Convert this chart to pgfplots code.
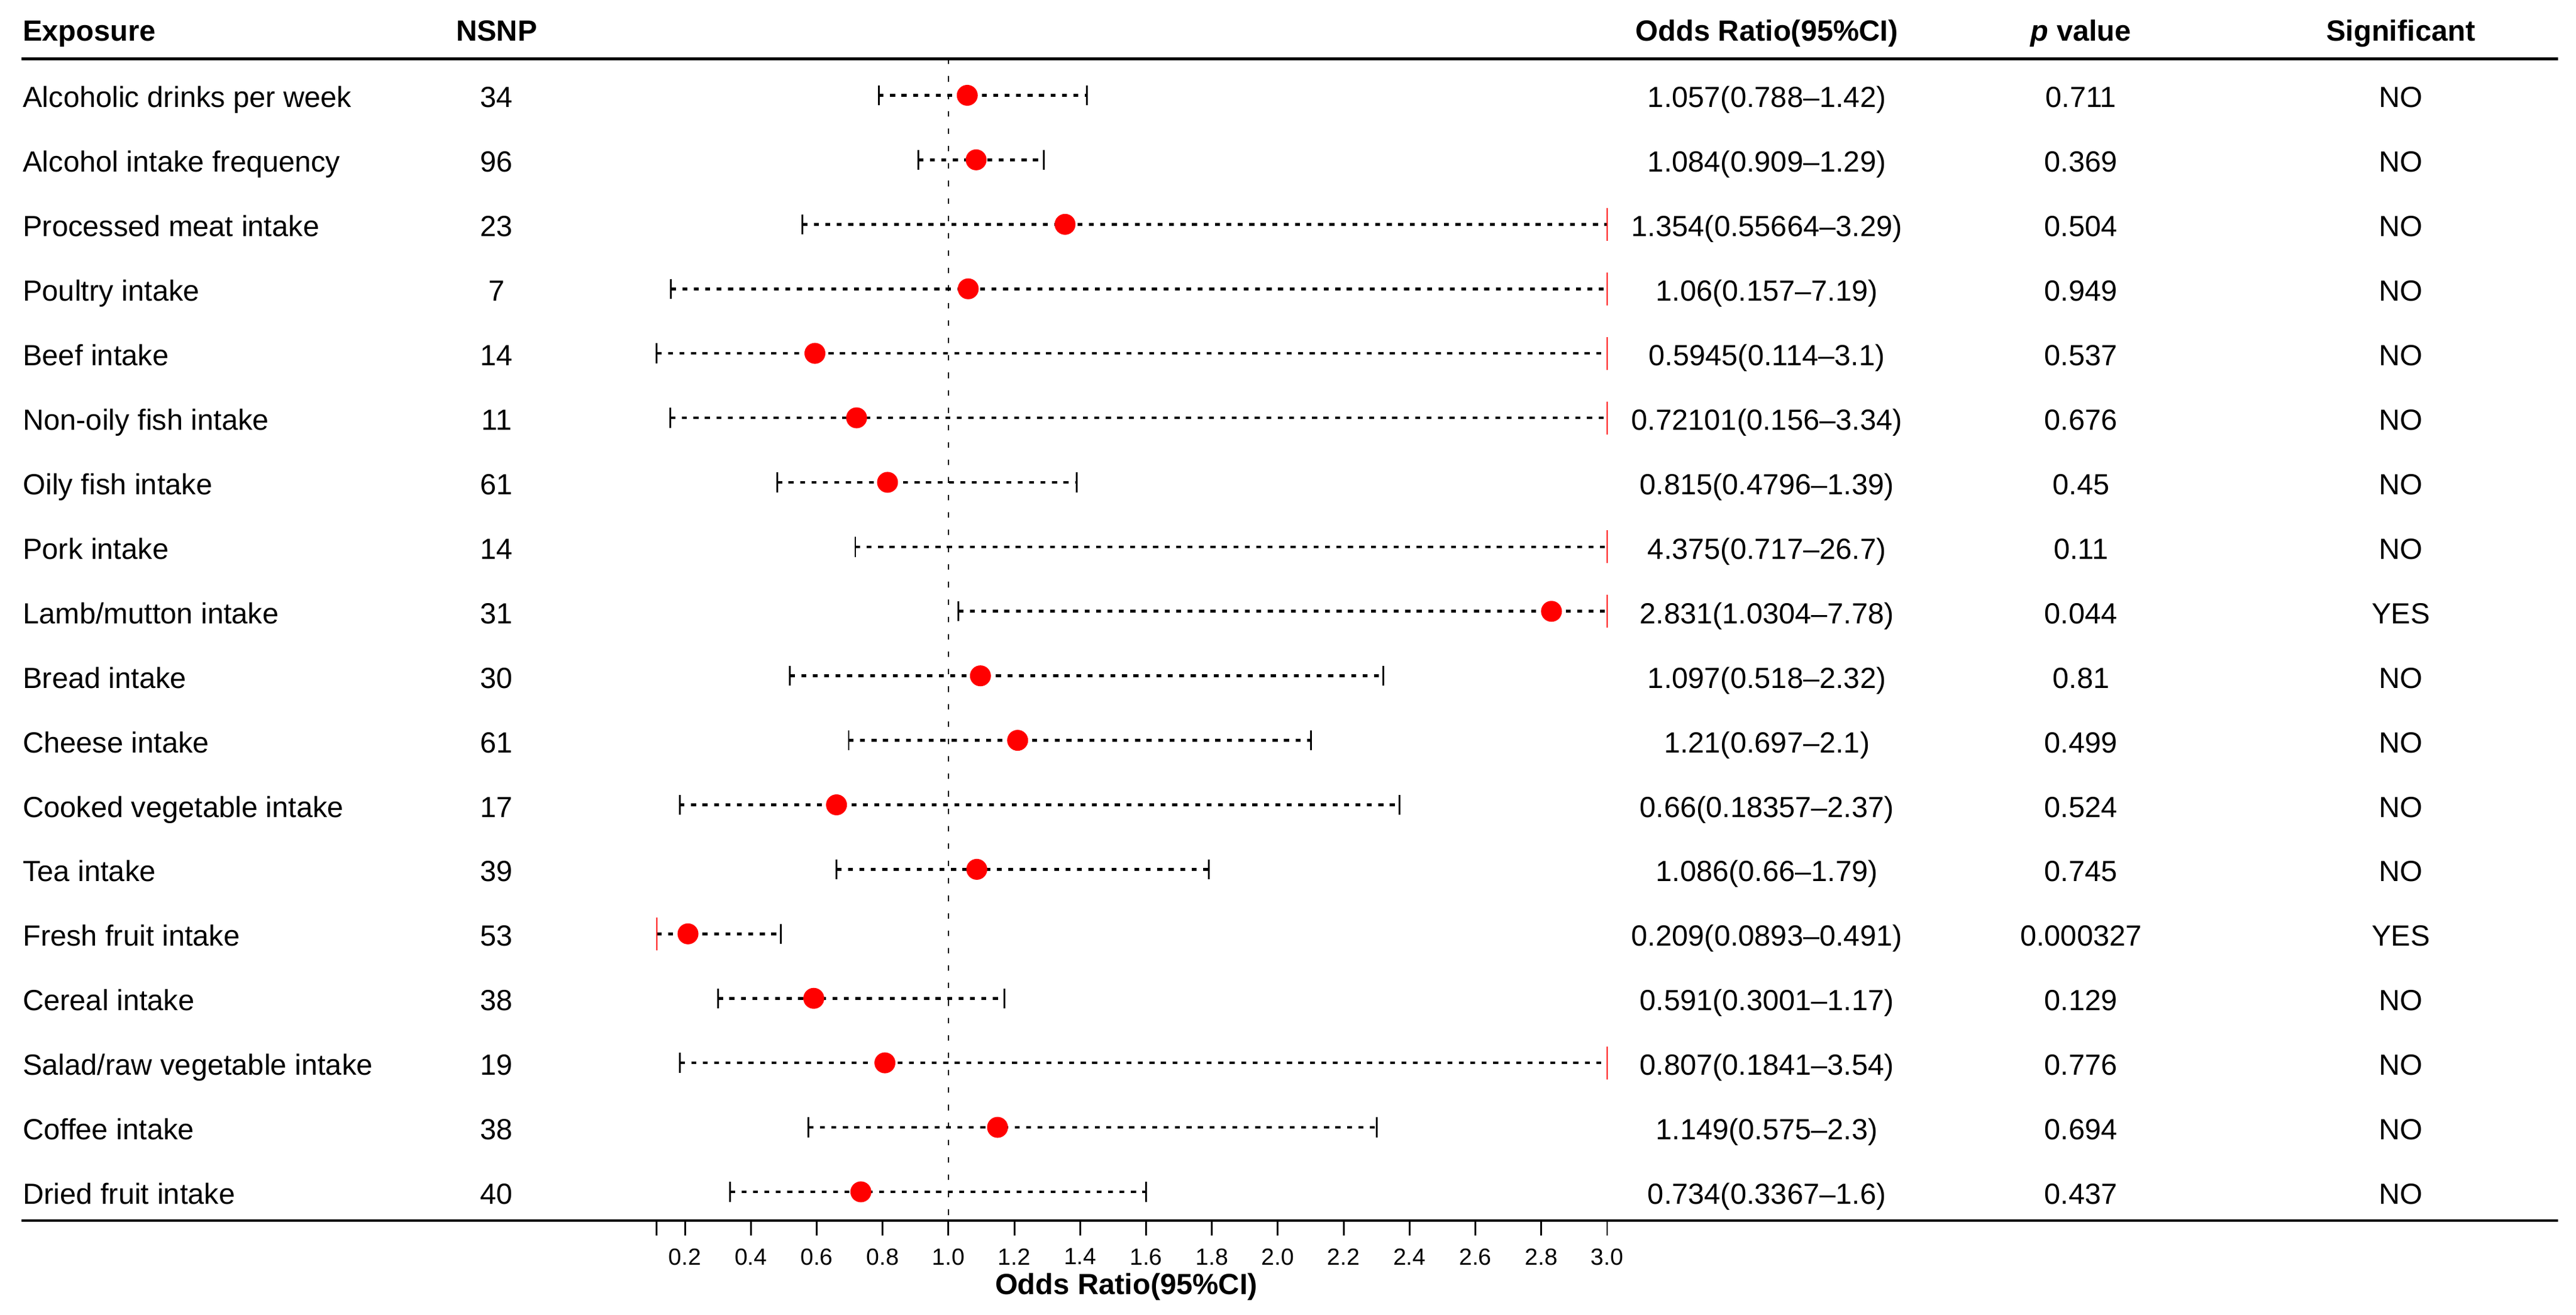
\documentclass[border=0pt]{standalone}
\usepackage{fontspec}
\setmainfont{Liberation Sans}
\usepackage{pgfplots}
\usepackage{pgfplotstable}
\pgfplotsset{compat=1.18}

\newcommand\bodyfont{\fontsize{11.7}{14}\selectfont}

% forest plot data, one row per exposure
\pgfplotstableread[col sep=semicolon]{
row;name;nsnp;or;lo;hi;ortext;p;sig
1;Alcoholic drinks per week;34;1.057;0.788;1.42;1.057(0.788–1.42);0.711;NO
2;Alcohol intake frequency;96;1.084;0.909;1.29;1.084(0.909–1.29);0.369;NO
3;Processed meat intake;23;1.354;0.55664;3.29;1.354(0.55664–3.29);0.504;NO
4;Poultry intake;7;1.06;0.157;7.19;1.06(0.157–7.19);0.949;NO
5;Beef intake;14;0.5945;0.114;3.1;0.5945(0.114–3.1);0.537;NO
6;Non-oily fish intake;11;0.72101;0.156;3.34;0.72101(0.156–3.34);0.676;NO
7;Oily fish intake;61;0.815;0.4796;1.39;0.815(0.4796–1.39);0.45;NO
8;Pork intake;14;4.375;0.717;26.7;4.375(0.717–26.7);0.11;NO
9;Lamb/mutton intake;31;2.831;1.0304;7.78;2.831(1.0304–7.78);0.044;YES
10;Bread intake;30;1.097;0.518;2.32;1.097(0.518–2.32);0.81;NO
11;Cheese intake;61;1.21;0.697;2.1;1.21(0.697–2.1);0.499;NO
12;Cooked vegetable intake;17;0.66;0.18357;2.37;0.66(0.18357–2.37);0.524;NO
13;Tea intake;39;1.086;0.66;1.79;1.086(0.66–1.79);0.745;NO
14;Fresh fruit intake;53;0.209;0.0893;0.491;0.209(0.0893–0.491);0.000327;YES
15;Cereal intake;38;0.591;0.3001;1.17;0.591(0.3001–1.17);0.129;NO
16;Salad/raw vegetable intake;19;0.807;0.1841;3.54;0.807(0.1841–3.54);0.776;NO
17;Coffee intake;38;1.149;0.575;2.3;1.149(0.575–2.3);0.694;NO
18;Dried fruit intake;40;0.734;0.3367;1.6;0.734(0.3367–1.6);0.437;NO
}\fpdata

\begin{document}
\begin{tikzpicture}
\begin{axis}[
  scale only axis, width=1018.5pt, height=466.5pt,
  xmin=-1.815, xmax=5.887, ymin=-18.447, ymax=-0.433,
  axis x line*=bottom, axis y line=none,
  axis line style={line width=1.1pt},
  xtick={0.114,0.2,0.4,0.6,0.8,1.0,1.2,1.4,1.6,1.8,2.0,2.2,2.4,2.6,2.8,3.0},
  xticklabels={,0.2,0.4,0.6,0.8,1.0,1.2,1.4,1.6,1.8,2.0,2.2,2.4,2.6,2.8,3.0},
  tick align=outside, major tick length=6pt,
  xtick style={line width=0.7pt, black},
  xticklabel style={font=\fontsize{9.4}{11}\selectfont, inner sep=0pt, anchor=north, yshift=-5pt},
  ytick=\empty,
  clip=false,
]
% reference line at OR = 1
\addplot[black, line width=0.6pt, dash pattern=on 2.2pt off 4.8pt] coordinates {(1,-0.433) (1,-18.447)};

% confidence intervals, cut at the axis range
\addplot[draw=none, mark=none,
  error bars/.cd, x dir=plus, x explicit, error mark=none,
  error bar style={draw=black, line width=1.1pt, dash pattern=on 2pt off 2.6pt}]
  table[x expr={max(\thisrow{lo},0.114)}, y expr={-\thisrow{row}},
        x error expr={min(\thisrow{hi},3)-max(\thisrow{lo},0.114)}] {\fpdata};

% end caps inside the range
\addplot[black, only marks, mark=|, mark size=4pt, mark options={line width=0.7pt}, restrict x to domain=0.1139:3]
  table[x=lo, y expr={-\thisrow{row}}] {\fpdata};
\addplot[black, only marks, mark=|, mark size=4pt, mark options={line width=0.7pt}, restrict x to domain=0:3]
  table[x=hi, y expr={-\thisrow{row}}] {\fpdata};
% red marks where the interval leaves the range
\addplot[red, only marks, mark=|, mark size=6.6pt, mark options={line width=0.5pt}, restrict x to domain=0:10]
  table[x expr={\thisrow{hi}>3 ? 3 : -10}, y expr={-\thisrow{row}}] {\fpdata};
\addplot[red, only marks, mark=|, mark size=6.6pt, mark options={line width=0.5pt}, restrict x to domain=0:10]
  table[x expr={\thisrow{lo}<0.114 ? 0.114 : -10}, y expr={-\thisrow{row}}] {\fpdata};

% point estimates
\addplot[red, only marks, mark=*, mark size=4pt, restrict x to domain=0:3]
  table[x=or, y expr={-\thisrow{row}}] {\fpdata};

% text columns
\addplot[draw=none, mark=none, nodes near coords, point meta=explicit symbolic,
  nodes near coords style={anchor=base west, inner sep=0pt, font=\bodyfont, black}]
  table[x expr=-1.812, y expr={-\thisrow{row}-0.19}, meta=name] {\fpdata};
\addplot[draw=none, mark=none, nodes near coords, point meta=explicit symbolic,
  nodes near coords style={anchor=base, inner sep=0pt, font=\bodyfont, black}]
  table[x expr=-0.372, y expr={-\thisrow{row}-0.19}, meta=nsnp] {\fpdata};
\addplot[draw=none, mark=none, nodes near coords, point meta=explicit symbolic,
  nodes near coords style={anchor=base, inner sep=0pt, font=\bodyfont, black}]
  table[x expr=3.485, y expr={-\thisrow{row}-0.19}, meta=ortext] {\fpdata};
\addplot[draw=none, mark=none, nodes near coords, point meta=explicit symbolic,
  nodes near coords style={anchor=base, inner sep=0pt, font=\bodyfont, black}]
  table[x expr=4.439, y expr={-\thisrow{row}-0.19}, meta=p] {\fpdata};
\addplot[draw=none, mark=none, nodes near coords, point meta=explicit symbolic,
  nodes near coords style={anchor=base, inner sep=0pt, font=\bodyfont, black}]
  table[x expr=5.410, y expr={-\thisrow{row}-0.19}, meta=sig] {\fpdata};

% header row and rule
\node[anchor=base west, inner sep=0pt, font=\bodyfont\bfseries] at (axis cs:-1.812,-0.16) {Exposure};
\node[anchor=base, inner sep=0pt, font=\bodyfont\bfseries] at (axis cs:-0.372,-0.16) {NSNP};
\node[anchor=base, inner sep=0pt, font=\bodyfont\bfseries] at (axis cs:3.485,-0.16) {Odds Ratio(95\%CI)};
\node[anchor=base, inner sep=0pt, font=\bodyfont\bfseries] at (axis cs:4.439,-0.16) {\textit{p} value};
\node[anchor=base, inner sep=0pt, font=\bodyfont\bfseries] at (axis cs:5.410,-0.16) {Significant};
\draw[line width=1.1pt] (axis cs:-1.815,-0.433) -- (axis cs:5.887,-0.433);

% axis title
\node[anchor=base, inner sep=0pt, font=\bodyfont\bfseries] at ([yshift=-29.5pt]axis cs:1.54,-18.447) {Odds Ratio(95\%CI)};

% page frame
\path (axis cs:-1.880,0.478) rectangle (axis cs:5.942,-19.902);
\end{axis}
\end{tikzpicture}
\end{document}
